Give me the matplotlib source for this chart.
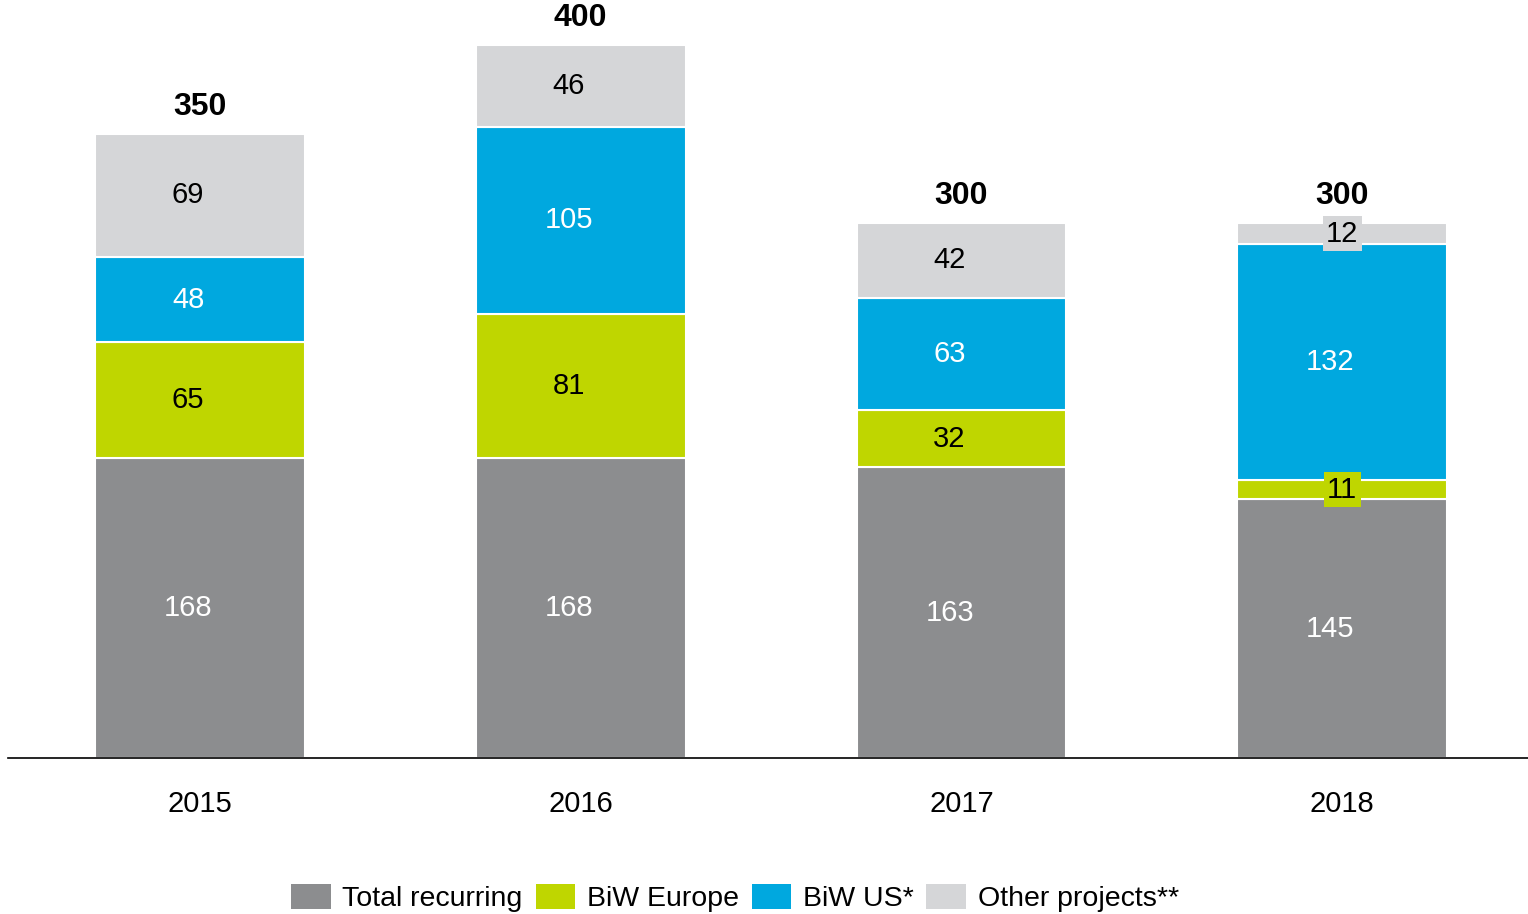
import numpy as np
import matplotlib
matplotlib.use('Agg')
from matplotlib import pyplot as plt
from matplotlib.patches import Patch

plt.rcParams['font.family'] = ['Liberation Sans', 'DejaVu Sans']

#%% Data
years = ['2015', '2016', '2017', '2018']
recurring = [168, 168, 163, 145]
biw_europe = [65, 81, 32, 11]
biw_us = [48, 105, 63, 132]
other = [69, 46, 42, 12]
totals = [350, 400, 300, 300]

series_names = ['Total recurring', 'BiW Europe', 'BiW US*', 'Other projects**']
colors = ['#8c8d8f', '#bfd600', '#00a8df', '#d5d6d8']
text_colors = ['white', 'black', 'white', 'black']

#%% Plot
fig = plt.figure(figsize=(15.28, 9.14), dpi=100)
ax = fig.add_axes([8/1528, 156/914, 1 - 8/1528, 758/914])

x = np.arange(len(years))
width = 0.551
series = [recurring, biw_europe, biw_us, other]
bottom = np.zeros(len(years))
for vals, col, tcol in zip(series, colors, text_colors):
    vals = np.array(vals)
    ax.bar(x, vals, width, bottom=bottom, color=col, edgecolor='white', linewidth=1.5, zorder=2)
    for i, v in enumerate(vals):
        yc = bottom[i] + v / 2
        if v < 20:
            ax.text(x[i], yc, str(v), ha='center', va='center', fontsize=21, color=tcol,
                    bbox=dict(boxstyle='square,pad=0.12', facecolor=col, edgecolor='none'), zorder=3)
        else:
            ax.text(x[i] - 0.031, yc, str(v), ha='center', va='center', fontsize=21, color=tcol, zorder=3)
    bottom += vals

for i, t in enumerate(totals):
    ax.text(x[i], t + 6.5, str(t), ha='center', va='bottom', fontsize=23, fontweight='bold')

ax.set_xlim(-0.504, 3.488)
ax.set_ylim(0, 425)
for s in ['top', 'right', 'left']:
    ax.spines[s].set_visible(False)
ax.spines['bottom'].set_linewidth(1.2)
ax.set_yticks([])
ax.set_xticks(x)
ax.set_xticklabels(years, fontsize=21)
ax.tick_params(axis='x', length=0, pad=23)

handles = [Patch(facecolor=c, edgecolor='none') for c in colors]
fig.legend(handles, series_names, loc='center', bbox_to_anchor=(735/1528, 1 - 898/914),
           ncol=4, frameon=False, fontsize=20.5, handlelength=1.4, handleheight=1.0,
           handletextpad=0.4, columnspacing=0.45)

plt.savefig('out.png', dpi=100)
